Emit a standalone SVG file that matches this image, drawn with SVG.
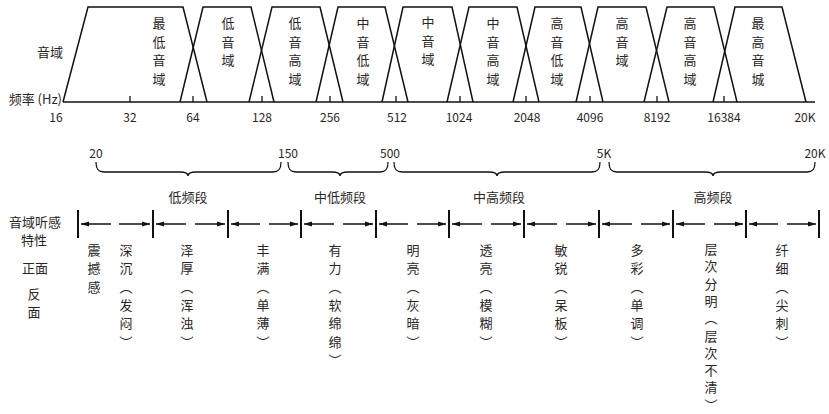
<svg xmlns="http://www.w3.org/2000/svg" width="829" height="414" viewBox="0 0 829 414">
<defs>
<style>
text{font-family:"Noto Sans CJK SC","Noto Sans",sans-serif;fill:#2a2627}
.t13{font-size:13px}
.t12{font-size:12px}
.m{text-anchor:middle}
.ln{fill:none;stroke:#111;stroke-width:1.5}
.tick{stroke:#111;stroke-width:1.3}
.bar{stroke:#111;stroke-width:2}
.arr{stroke:#111;stroke-width:1.5;marker-end:url(#ah)}
.brace{fill:none;stroke:#111;stroke-width:1.3}
</style>
<marker id="ah" markerUnits="userSpaceOnUse" markerWidth="8" markerHeight="6" refX="8" refY="3" orient="auto">
<path d="M0,0.6 L8,3 L0,5.4 z" fill="#111"/>
</marker>
</defs>
<rect width="829" height="414" fill="#fff"/>

<g id="axis-labels">
<text class="t13" x="50" y="57" text-anchor="middle">音域</text>
<text class="t13" x="62" y="104" text-anchor="end">频率 (Hz)</text>
</g>

<g id="connectors">
<line class="ln" x1="63" y1="102" x2="815" y2="102"/>
<g id="ticks">
<line class="tick" x1="130" y1="96" x2="130" y2="102"/>
<line class="tick" x1="193" y1="96" x2="193" y2="102"/>
<line class="tick" x1="262" y1="96" x2="262" y2="102"/>
<line class="tick" x1="330" y1="96" x2="330" y2="102"/>
<line class="tick" x1="396" y1="96" x2="396" y2="102"/>
<line class="tick" x1="460" y1="96" x2="460" y2="102"/>
<line class="tick" x1="526" y1="96" x2="526" y2="102"/>
<line class="tick" x1="590" y1="96" x2="590" y2="102"/>
<line class="tick" x1="657" y1="96" x2="657" y2="102"/>
<line class="tick" x1="724" y1="96" x2="724" y2="102"/>
</g>
<g id="braces">
<path class="brace" d="M96,162 C96,169 98,172 104,172 L180,172 C185,172 188,173 188,176 C188,173 191,172 196,172 L273,172 C279,172 281,169 281,162"/>
<path class="brace" d="M288,162 C288,169 290,172 296,172 L332,172 C337,172 340,173 340,176 C340,173 343,172 348,172 L380,172 C386,172 388,169 388,162"/>
<path class="brace" d="M394,162 C394,169 396,172 402,172 L489,172 C494,172 497,173 497,176 C497,173 500,172 505,172 L592,172 C598,172 600,169 600,162"/>
<path class="brace" d="M609,162 C609,169 611,172 617,172 L705,172 C710,172 713,173 713,176 C713,173 716,172 721,172 L807,172 C813,172 815,169 815,162"/>
</g>
<g id="bars">
<line class="bar" x1="78" y1="210" x2="78" y2="238"/>
<line class="bar" x1="153" y1="210" x2="153" y2="238"/>
<line class="bar" x1="228" y1="210" x2="228" y2="238"/>
<line class="bar" x1="301" y1="210" x2="301" y2="238"/>
<line class="bar" x1="376" y1="210" x2="376" y2="238"/>
<line class="bar" x1="449" y1="210" x2="449" y2="238"/>
<line class="bar" x1="524" y1="210" x2="524" y2="238"/>
<line class="bar" x1="599" y1="210" x2="599" y2="238"/>
<line class="bar" x1="673" y1="210" x2="673" y2="238"/>
<line class="bar" x1="746" y1="210" x2="746" y2="238"/>
<line class="bar" x1="819" y1="210" x2="819" y2="238"/>
</g>
<g id="arrows">
<line class="arr" x1="111" y1="224" x2="81" y2="224"/><line class="arr" x1="119" y1="224" x2="150" y2="224"/>
<line class="arr" x1="186" y1="224" x2="156" y2="224"/><line class="arr" x1="195" y1="224" x2="225" y2="224"/>
<line class="arr" x1="260" y1="224" x2="231" y2="224"/><line class="arr" x1="269" y1="224" x2="298" y2="224"/>
<line class="arr" x1="334" y1="224" x2="304" y2="224"/><line class="arr" x1="343" y1="224" x2="373" y2="224"/>
<line class="arr" x1="408" y1="224" x2="379" y2="224"/><line class="arr" x1="417" y1="224" x2="446" y2="224"/>
<line class="arr" x1="482" y1="224" x2="452" y2="224"/><line class="arr" x1="491" y1="224" x2="521" y2="224"/>
<line class="arr" x1="557" y1="224" x2="527" y2="224"/><line class="arr" x1="566" y1="224" x2="596" y2="224"/>
<line class="arr" x1="632" y1="224" x2="602" y2="224"/><line class="arr" x1="641" y1="224" x2="670" y2="224"/>
<line class="arr" x1="705" y1="224" x2="676" y2="224"/><line class="arr" x1="714" y1="224" x2="743" y2="224"/>
<line class="arr" x1="778" y1="224" x2="749" y2="224"/><line class="arr" x1="787" y1="224" x2="816" y2="224"/>
</g>
</g>

<g id="band-1"><polyline class="ln" points="63,102 88,7 183,7 207,102"/>
<text class="t13 m"><tspan x="159" y="28">最</tspan><tspan x="159" y="46.7">低</tspan><tspan x="159" y="65.4">音</tspan><tspan x="159" y="84.1">域</tspan></text></g>
<g id="band-2"><polyline class="ln" points="180,102 203,7 251,7 274,102"/>
<text class="t13 m"><tspan x="228" y="28">低</tspan><tspan x="228" y="46.7">音</tspan><tspan x="228" y="65.4">域</tspan></text></g>
<g id="band-3"><polyline class="ln" points="249,102 272,7 320,7 343,102"/>
<text class="t13 m"><tspan x="295" y="28">低</tspan><tspan x="295" y="46.7">音</tspan><tspan x="295" y="65.4">高</tspan><tspan x="295" y="84.1">域</tspan></text></g>
<g id="band-4"><polyline class="ln" points="316,102 338,7 385,7 408,102"/>
<text class="t13 m"><tspan x="363" y="28">中</tspan><tspan x="363" y="46.7">音</tspan><tspan x="363" y="65.4">低</tspan><tspan x="363" y="84.1">域</tspan></text></g>
<g id="band-5"><polyline class="ln" points="382,102 403,7 452,7 473,102"/>
<text class="t13 m"><tspan x="428" y="27">中</tspan><tspan x="428" y="45.7">音</tspan><tspan x="428" y="64.4">域</tspan></text></g>
<g id="band-6"><polyline class="ln" points="447,102 469,7 517,7 539,102"/>
<text class="t13 m"><tspan x="493" y="28">中</tspan><tspan x="493" y="46.7">音</tspan><tspan x="493" y="65.4">高</tspan><tspan x="493" y="84.1">域</tspan></text></g>
<g id="band-7"><polyline class="ln" points="513,102 535,7 581,7 603,102"/>
<text class="t13 m"><tspan x="557" y="28">高</tspan><tspan x="557" y="46.7">音</tspan><tspan x="557" y="65.4">低</tspan><tspan x="557" y="84.1">域</tspan></text></g>
<g id="band-8"><polyline class="ln" points="576,102 598,7 646,7 669,102"/>
<text class="t13 m"><tspan x="622" y="28">高</tspan><tspan x="622" y="46.7">音</tspan><tspan x="622" y="65.4">域</tspan></text></g>
<g id="band-9"><polyline class="ln" points="644,102 667,7 714,7 737,102"/>
<text class="t13 m"><tspan x="690" y="28">高</tspan><tspan x="690" y="46.7">音</tspan><tspan x="690" y="65.4">高</tspan><tspan x="690" y="84.1">域</tspan></text></g>
<g id="band-10"><polyline class="ln" points="713,102 735,7 782,7 806,102"/>
<text class="t13 m"><tspan x="758" y="28">最</tspan><tspan x="758" y="46.7">高</tspan><tspan x="758" y="65.4">音</tspan><tspan x="758" y="84.1">城</tspan></text></g>

<g id="freq-labels">
<text class="t12 m" x="56" y="122">16</text>
<text class="t12 m" x="130" y="122">32</text>
<text class="t12 m" x="193" y="122">64</text>
<text class="t12 m" x="262" y="122">128</text>
<text class="t12 m" x="330" y="122">256</text>
<text class="t12 m" x="397" y="122">512</text>
<text class="t12 m" x="459" y="122">1024</text>
<text class="t12 m" x="527" y="122">2048</text>
<text class="t12 m" x="590" y="122">4096</text>
<text class="t12 m" x="657" y="122">8192</text>
<text class="t12 m" x="724" y="122">16384</text>
<text class="t12 m" x="805" y="122">20K</text>
</g>

<g id="brace-labels">
<text class="t12 m" x="96" y="158">20</text>
<text class="t12 m" x="288" y="158">150</text>
<text class="t12 m" x="390" y="158">500</text>
<text class="t12 m" x="604" y="158">5K</text>
<text class="t12 m" x="815" y="158">20K</text>
<text class="t13 m" x="188" y="202">低频段</text>
<text class="t13 m" x="340" y="202">中低频段</text>
<text class="t13 m" x="499" y="202">中高频段</text>
<text class="t13 m" x="713" y="202">高频段</text>
</g>

<g id="row-labels">
<text class="t13 m" x="35" y="227">音域听感</text>
<text class="t13 m" x="34" y="245">特性</text>
<text class="t13 m" x="35" y="273">正面</text>
<text class="t13 m"><tspan x="34" y="299">反</tspan><tspan x="34" y="317">面</tspan></text>
</g>

<g id="col-1"><text class="t13 m"><tspan x="94" y="255">震</tspan><tspan x="94" y="273.3">撼</tspan><tspan x="94" y="291.6">感</tspan></text></g>
<g id="col-2"><text class="t13 m"><tspan x="126" y="255">深</tspan><tspan x="126" y="273.3">沉</tspan><tspan x="126" y="291.6">︵</tspan><tspan x="126" y="309.9">发</tspan><tspan x="126" y="328.2">闷</tspan><tspan x="126" y="346.5">︶</tspan></text></g>
<g id="col-3"><text class="t13 m"><tspan x="187" y="255">泽</tspan><tspan x="187" y="273.3">厚</tspan><tspan x="187" y="291.6">︵</tspan><tspan x="187" y="309.9">浑</tspan><tspan x="187" y="328.2">浊</tspan><tspan x="187" y="346.5">︶</tspan></text></g>
<g id="col-4"><text class="t13 m"><tspan x="263" y="255">丰</tspan><tspan x="263" y="273.3">满</tspan><tspan x="263" y="291.6">︵</tspan><tspan x="263" y="309.9">单</tspan><tspan x="263" y="328.2">薄</tspan><tspan x="263" y="346.5">︶</tspan></text></g>
<g id="col-5"><text class="t13 m"><tspan x="335" y="255">有</tspan><tspan x="335" y="273.3">力</tspan><tspan x="335" y="291.6">︵</tspan><tspan x="335" y="309.9">软</tspan><tspan x="335" y="328.2">绵</tspan><tspan x="335" y="346.5">绵</tspan><tspan x="335" y="364.8">︶</tspan></text></g>
<g id="col-6"><text class="t13 m"><tspan x="413" y="255">明</tspan><tspan x="413" y="273.3">亮</tspan><tspan x="413" y="291.6">︵</tspan><tspan x="413" y="309.9">灰</tspan><tspan x="413" y="328.2">暗</tspan><tspan x="413" y="346.5">︶</tspan></text></g>
<g id="col-7"><text class="t13 m"><tspan x="486" y="255">透</tspan><tspan x="486" y="273.3">亮</tspan><tspan x="486" y="291.6">︵</tspan><tspan x="486" y="309.9">模</tspan><tspan x="486" y="328.2">糊</tspan><tspan x="486" y="346.5">︶</tspan></text></g>
<g id="col-8"><text class="t13 m"><tspan x="561" y="255">敏</tspan><tspan x="561" y="273.3">锐</tspan><tspan x="561" y="291.6">︵</tspan><tspan x="561" y="309.9">呆</tspan><tspan x="561" y="328.2">板</tspan><tspan x="561" y="346.5">︶</tspan></text></g>
<g id="col-9"><text class="t13 m"><tspan x="637" y="255">多</tspan><tspan x="637" y="273.3">彩</tspan><tspan x="637" y="291.6">︵</tspan><tspan x="637" y="309.9">单</tspan><tspan x="637" y="328.2">调</tspan><tspan x="637" y="346.5">︶</tspan></text></g>
<g id="col-10"><text class="t13 m"><tspan x="711" y="254">层</tspan><tspan x="711" y="271.3">次</tspan><tspan x="711" y="288.6">分</tspan><tspan x="711" y="305.9">明</tspan><tspan x="711" y="323.2">︵</tspan><tspan x="711" y="340.5">层</tspan><tspan x="711" y="357.8">次</tspan><tspan x="711" y="375.1">不</tspan><tspan x="711" y="392.4">清</tspan><tspan x="711" y="409.7">︶</tspan></text></g>
<g id="col-11"><text class="t13 m"><tspan x="782" y="255">纤</tspan><tspan x="782" y="273.3">细</tspan><tspan x="782" y="291.6">︵</tspan><tspan x="782" y="309.9">尖</tspan><tspan x="782" y="328.2">刺</tspan><tspan x="782" y="346.5">︶</tspan></text></g>
</svg>
